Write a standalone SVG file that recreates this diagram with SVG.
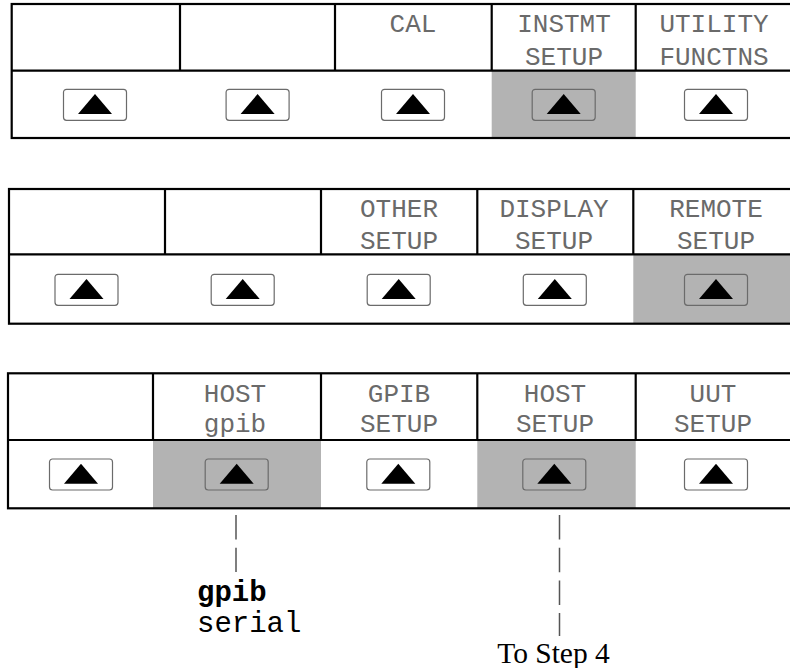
<svg xmlns="http://www.w3.org/2000/svg" width="790" height="668" viewBox="0 0 790 668">
<defs>
<style>
.frame{fill:none;stroke:#000;stroke-width:2.2}
.div{stroke:#000;stroke-width:2.2}
.hl{fill:#b3b3b3}
.btn{fill:none;stroke:#6b6b6b;stroke-width:1.2}
.tri{fill:#000}
.lcd{font-family:"Liberation Mono","DejaVu Sans Mono",monospace;font-size:26px;fill:#6a6a6a;text-anchor:middle}
.conn{stroke:#555;stroke-width:1.5;fill:none;stroke-dasharray:24.5 8.2}
.opt{font-family:"Liberation Mono","Courier New",monospace;font-size:29px;fill:#000}
.step{font-family:"Liberation Serif","Times New Roman",serif;font-size:29.5px;fill:#000;text-anchor:middle}
</style>
<g id="key">
<rect class="btn" x="-31.5" y="0" width="63" height="31" rx="3"/>
<polygon class="tri" points="0,4.7 17,24.7 -17,24.7"/>
</g>
</defs>

<g id="panel1">
<rect class="hl" x="491.7" y="70.7" width="144" height="67.3"/>
<rect class="frame" x="11.7" y="4" width="782" height="134"/>
<line class="div" x1="11.7" y1="70.7" x2="790" y2="70.7"/>
<line class="div" x1="180" y1="4" x2="180" y2="70.7"/>
<line class="div" x1="335" y1="4" x2="335" y2="70.7"/>
<line class="div" x1="491.7" y1="4" x2="491.7" y2="70.7"/>
<line class="div" x1="635.7" y1="4" x2="635.7" y2="70.7"/>
<text class="lcd" x="413" y="32">CAL</text>
<text class="lcd" x="564" y="32">INSTMT</text>
<text class="lcd" x="564" y="64.5">SETUP</text>
<text class="lcd" x="714" y="32">UTILITY</text>
<text class="lcd" x="714" y="64.5">FUNCTNS</text>
<use href="#key" x="95" y="89.3"/>
<use href="#key" x="257.6" y="89.3"/>
<use href="#key" x="413" y="89.3"/>
<use href="#key" x="563.7" y="89.3"/>
<use href="#key" x="716" y="89.3"/>
</g>

<g id="panel2">
<rect class="hl" x="633.3" y="254.3" width="157" height="69.4"/>
<rect class="frame" x="9" y="189" width="785" height="134.7"/>
<line class="div" x1="9" y1="254.3" x2="790" y2="254.3"/>
<line class="div" x1="165" y1="189" x2="165" y2="254.3"/>
<line class="div" x1="321" y1="189" x2="321" y2="254.3"/>
<line class="div" x1="477.3" y1="189" x2="477.3" y2="254.3"/>
<line class="div" x1="633.3" y1="189" x2="633.3" y2="254.3"/>
<text class="lcd" x="399" y="216.7">OTHER</text>
<text class="lcd" x="399" y="248.5">SETUP</text>
<text class="lcd" x="554" y="216.7">DISPLAY</text>
<text class="lcd" x="554" y="248.5">SETUP</text>
<text class="lcd" x="716" y="216.7">REMOTE</text>
<text class="lcd" x="716" y="248.5">SETUP</text>
<use href="#key" x="86.5" y="274.3"/>
<use href="#key" x="242.7" y="274.3"/>
<use href="#key" x="398.7" y="274.3"/>
<use href="#key" x="554.8" y="274.3"/>
<use href="#key" x="716" y="274.3"/>
</g>

<g id="panel3">
<rect class="hl" x="153" y="440" width="168" height="68.3"/>
<rect class="hl" x="477.3" y="440" width="158.4" height="68.3"/>
<rect class="frame" x="8" y="373.3" width="786" height="135"/>
<line class="div" x1="8" y1="440" x2="790" y2="440"/>
<line class="div" x1="153" y1="373.3" x2="153" y2="440"/>
<line class="div" x1="321" y1="373.3" x2="321" y2="440"/>
<line class="div" x1="477.3" y1="373.3" x2="477.3" y2="440"/>
<line class="div" x1="635.7" y1="373.3" x2="635.7" y2="440"/>
<text class="lcd" x="235" y="401.7">HOST</text>
<text class="lcd" x="235" y="431.7">gpib</text>
<text class="lcd" x="399" y="401.7">GPIB</text>
<text class="lcd" x="399" y="431.7">SETUP</text>
<text class="lcd" x="555" y="401.7">HOST</text>
<text class="lcd" x="555" y="431.7">SETUP</text>
<text class="lcd" x="713" y="401.7">UUT</text>
<text class="lcd" x="713" y="431.7">SETUP</text>
<use href="#key" x="81" y="459"/>
<use href="#key" x="236.7" y="459"/>
<use href="#key" x="398.3" y="459"/>
<use href="#key" x="554.3" y="459"/>
<use href="#key" x="716" y="459"/>
</g>

<g id="connectors">
<line class="conn" x1="236" y1="515" x2="236" y2="572"/>
<line class="conn" x1="559.5" y1="515" x2="559.5" y2="636"/>
</g>

<g id="options">
<text class="opt" x="197" y="600.5" font-weight="bold">gpib</text>
<text class="opt" x="197" y="631.5">serial</text>
</g>

<g id="step">
<text class="step" x="553.5" y="663">To Step 4</text>
</g>
</svg>
